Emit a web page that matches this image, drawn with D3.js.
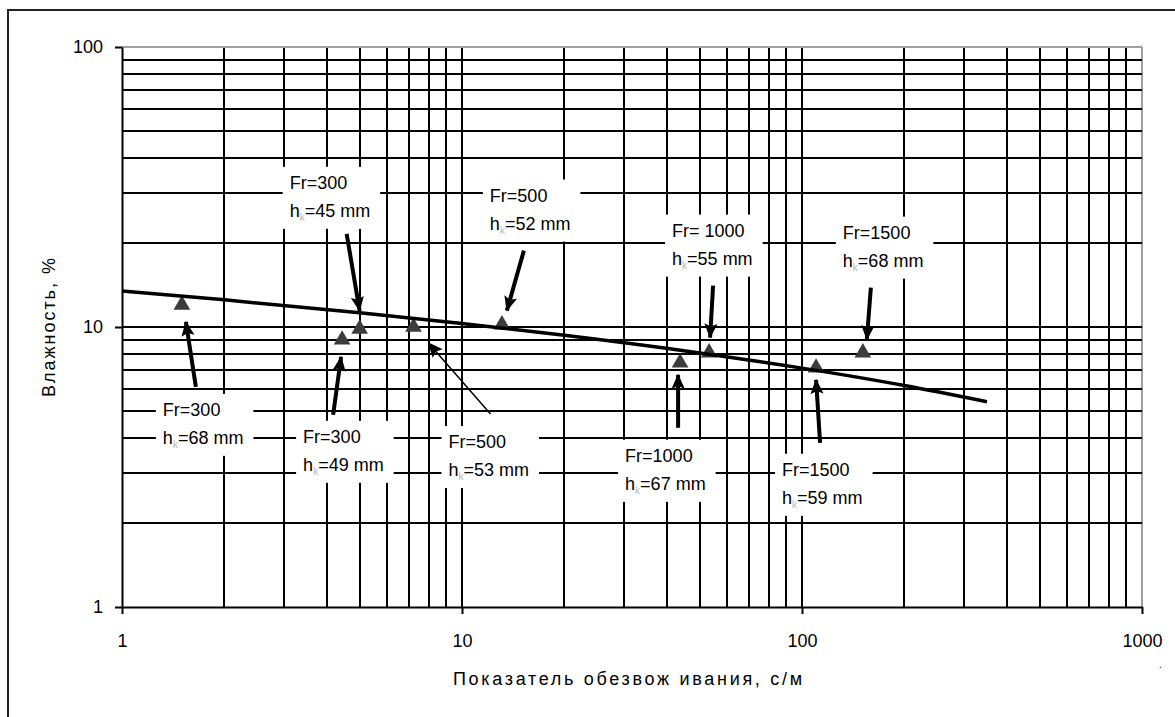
<!DOCTYPE html>
<html lang="ru">
  <head>
    <meta charset="UTF-8" />
    <title>Влажность vs показатель обезвоживания</title>
    <script src="https://d3js.org/d3.v7.min.js"></script>
    <style>
      body { margin: 0; background: #fff; }
      text { font-family: "Liberation Sans", Arial, sans-serif; font-size: 18px; fill: #000; }
    </style>
  </head>
  <body>
    <svg id="chart" width="1175" height="717"></svg>

    <script>
      // Measured points (x = показатель обезвоживания, y = влажность %)
      const pointX = [1.5, 4.44, 5.0, 7.2, 13.1, 43.8, 53.3, 110, 151];
      const pointY = [12.0, 9.0, 9.85, 10.0, 10.2, 7.45, 8.1, 7.15, 8.1];
      const labelFr = ["Fr=300", "Fr=300", "Fr=300", "Fr=500", "Fr=500", "Fr=1000", "Fr= 1000", "Fr=1500", "Fr=1500"];
      const labelH = ["68", "49", "45", "53", "52", "67", "55", "59", "68"];

      // Trend line
      const trendX = [1, 2, 5, 10, 20, 50, 100, 200, 350];
      const trendY = [13.45, 12.5, 11.24, 10.29, 9.34, 8.08, 7.13, 6.18, 5.41];

      const xTicks = [1, 10, 100, 1000];
      const yTicks = [1, 10, 100];

      // Annotation layout: offsets (px) from the point for arrow tail/tip and label text
      const annot = [
        { tail: [14, 82], tip: [4, 17], label: [-19, 111] },
        { tail: [-9, 75], tip: [-1, 17], label: [-39, 103] },
        { tail: [-13, -95], tip: [0, -18], label: [-70, -140] },
        { tail: [77, 87], tip: [15, 16], label: [35, 121], thin: true },
        { tail: [22, -74], tip: [5, -14], label: [-12, -123] },
        { tail: [-2, 65], tip: [-2, 12], label: [-55, 99] },
        { tail: [4, -67], tip: [1, -15], label: [-37, -116] },
        { tail: [4, 75], tip: [0, 12], label: [-34, 108] },
        { tail: [8, -65], tip: [4, -13], label: [-20, -114] },
      ];

      const svg = d3.select("#chart");

      // outer frame (runs off the right/bottom edge like the source)
      svg.append("rect")
        .attr("x", 8).attr("y", 10)
        .attr("width", 1200).attr("height", 750)
        .attr("fill", "#fff").attr("stroke", "#222").attr("stroke-width", 2);

      const x = d3.scaleLog().domain([1, 1000]).range([122, 1142]);
      const y = d3.scaleLog().domain([1, 100]).range([607, 47]);

      // grid lines at every 1..9 multiple
      const xGrid = [], yGrid = [];
      [1, 10, 100].forEach((dec) => {
        for (let m = 2; m <= 10; m++) xGrid.push(dec * m);
      });
      [1, 10].forEach((dec) => {
        for (let m = 2; m <= 10; m++) yGrid.push(dec * m);
      });

      const grid = svg.append("g");
      grid.selectAll(".vg").data(xGrid).enter().append("line")
        .attr("x1", (d) => Math.round(x(d))).attr("x2", (d) => Math.round(x(d)))
        .attr("y1", y(100)).attr("y2", y(1))
        .attr("stroke", (d) => (d === 1000 ? "#a0a0a0" : "#000"))
        .attr("stroke-width", 2);
      grid.selectAll(".hg").data(yGrid).enter().append("line")
        .attr("x1", x(1)).attr("x2", x(1000))
        .attr("y1", (d) => Math.round(y(d))).attr("y2", (d) => Math.round(y(d)))
        .attr("stroke", (d) => (d === 100 ? "#a0a0a0" : "#000"))
        .attr("stroke-width", 2);

      // axes
      const xAxis = svg.append("g")
        .attr("transform", `translate(0,${y(1)})`)
        .call(d3.axisBottom(x).tickValues(xTicks).tickFormat(d3.format("d")).tickSize(7).tickSizeOuter(0));
      const yAxis = svg.append("g")
        .attr("transform", `translate(${x(1)},0)`)
        .call(d3.axisLeft(y).tickValues(yTicks).tickFormat(d3.format("d")).tickSize(7).tickSizeOuter(0));

      [xAxis, yAxis].forEach((g) => {
        g.select(".domain").attr("stroke", "#000").attr("stroke-width", 2);
        g.selectAll(".tick line").attr("stroke", "#000").attr("stroke-width", 2);
        g.selectAll(".tick text").style("font-size", "18px").attr("fill", "#000")
          .style("font-family", '"Liberation Sans", Arial, sans-serif');
      });
      xAxis.selectAll(".tick text").attr("y", 40).attr("dy", 0);
      yAxis.selectAll(".tick text").attr("x", -19).attr("dy", "0.33em");

      // axis titles
      svg.append("text")
        .attr("x", 453).attr("y", 685)
        .attr("textLength", 349).attr("lengthAdjust", "spacing")
        .text("Показатель обезвож ивания, с/м");
      svg.append("text")
        .attr("transform", "translate(55,397) rotate(-90)")
        .attr("textLength", 139).attr("lengthAdjust", "spacing")
        .text("Влажность, %");
      svg.append("text").attr("x", 1159).attr("y", 668)
        .style("font-size", "10px").attr("fill", "#666").text(".");

      const points = pointX.map((v, i) => ({
        x: v, y: pointY[i], fr: labelFr[i], h: labelH[i], a: annot[i],
      }));

      // label boxes (white, covering the grid)
      const labels = svg.append("g");
      points.forEach((p) => {
        const px = x(p.x), py = y(p.y);
        const lx = px + p.a.label[0], ly = py + p.a.label[1];
        const g = labels.append("g");
        const box = g.append("rect").attr("fill", "#fff");
        g.append("text").attr("x", lx).attr("y", ly).text(p.fr);
        const t = g.append("text").attr("x", lx).attr("y", ly + 28);
        t.append("tspan").text("h");
        t.append("tspan").attr("dy", 4).style("font-size", "10px").attr("fill", "#b8b8b8").text("k");
        t.append("tspan").attr("dy", -4).text("=" + p.h + " mm");
        const bb = g.node().getBBox();
        box.attr("x", bb.x - 7).attr("y", bb.y - 6)
          .attr("width", bb.width + 17).attr("height", bb.height + 12);
      });

      // markers
      svg.selectAll(".pt").data(points).enter().append("path")
        .attr("d", d3.symbol(d3.symbolTriangle, 120))
        .attr("transform", (d) => `translate(${x(d.x)},${y(d.y)})`)
        .attr("fill", "#3c3c3c");

      // trend line
      const trend = trendX.map((v, i) => [v, trendY[i]]);
      svg.append("path")
        .datum(trend)
        .attr("fill", "none").attr("stroke", "#000").attr("stroke-width", 3.5)
        .attr("d", d3.line().x((d) => x(d[0])).y((d) => y(d[1])).curve(d3.curveMonotoneX));

      // arrows
      const defs = svg.append("defs");
      defs.append("marker")
        .attr("id", "head").attr("markerUnits", "userSpaceOnUse")
        .attr("viewBox", "0 0 16 16").attr("refX", 15).attr("refY", 8)
        .attr("markerWidth", 17).attr("markerHeight", 15).attr("orient", "auto")
        .append("path").attr("d", "M0,1 L16,8 L0,15 L3,8 Z").attr("fill", "#000");

      points.forEach((p) => {
        const px = x(p.x), py = y(p.y);
        svg.append("line")
          .attr("x1", px + p.a.tail[0]).attr("y1", py + p.a.tail[1])
          .attr("x2", px + p.a.tip[0]).attr("y2", py + p.a.tip[1])
          .attr("stroke", "#000")
          .attr("stroke-width", p.a.thin ? 1.5 : 4)
          .attr("marker-end", "url(#head)");
      });
    </script>
  </body>
</html>
